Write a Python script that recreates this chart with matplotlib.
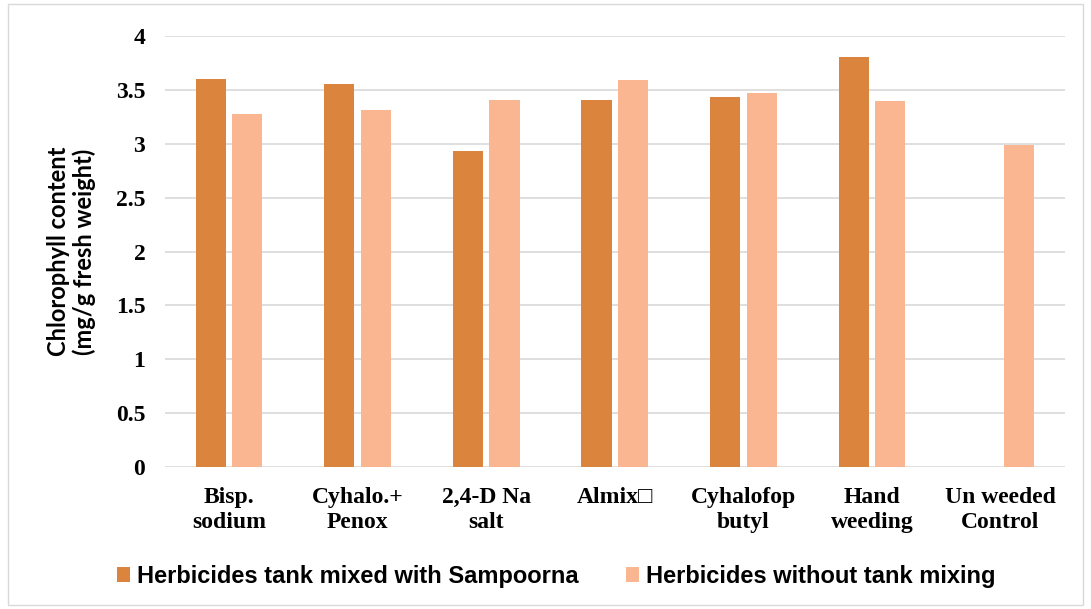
import numpy as np
import matplotlib.pyplot as plt
from matplotlib.patches import Rectangle

categories = ['Bisp.\nsodium', 'Cyhalo.+\nPenox', '2,4-D Na\nsalt', 'Almix\u25a1',
              'Cyhalofop\nbutyl', 'Hand\nweeding', 'Un weeded\nControl']
tank_mixed = [3.60, 3.555, 2.93, 3.41, 3.43, 3.80, np.nan]
no_mixing = [3.28, 3.31, 3.41, 3.59, 3.47, 3.40, 2.99]
labels = ['Herbicides tank mixed with Sampoorna', 'Herbicides without tank mixing']

dark = '#db843d'
light = '#f9b690'

fig = plt.figure(figsize=(10.91, 6.09), dpi=100)
fig.patches.append(Rectangle((0.007, 0.007), 0.986, 0.986, transform=fig.transFigure,
                             fill=False, edgecolor='#d9d9d9', linewidth=1))
ax = fig.add_axes([0.151, 0.233, 0.825, 0.708])

x = np.arange(len(categories))
w = 0.235
ax.bar(x - 0.142, tank_mixed, w, color=dark, label=labels[0])
ax.bar(x + 0.142, no_mixing, w, color=light, label=labels[1])

ax.set_xlim(-0.5, len(categories) - 0.5)
ax.set_ylim(0, 4)
ax.set_yticks(np.arange(0, 4.01, 0.5))
ax.set_yticklabels(['0', '0.5', '1', '1.5', '2', '2.5', '3', '3.5', '4'],
                   family='Liberation Serif', fontweight='bold', fontsize=17)
ax.set_xticks(x)
ax.set_xticklabels(categories, family=['Liberation Serif', 'DejaVu Serif'],
                   fontweight='bold', fontsize=17, linespacing=1.3)
ax.tick_params(axis='y', length=0, pad=14)
ax.tick_params(axis='x', length=0, pad=14)
ax.yaxis.grid(True, color='#d9d9d9', linewidth=1.2)
ax.set_axisbelow(True)
for s in ax.spines.values():
    s.set_visible(False)

ax.set_ylabel('Chlorophyll content\n(mg/g fresh weight)', family='Lato', fontweight='bold',
              fontsize=17, labelpad=14, linespacing=1.15)

fig.legend(loc='lower center', bbox_to_anchor=(0.51, 0.0), ncol=2, frameon=False,
           prop={'family': 'Liberation Sans', 'weight': 'bold', 'size': 17},
           handlelength=0.55, handleheight=0.55, columnspacing=2.0, handletextpad=0.3)

plt.savefig('out.png', dpi=100)
